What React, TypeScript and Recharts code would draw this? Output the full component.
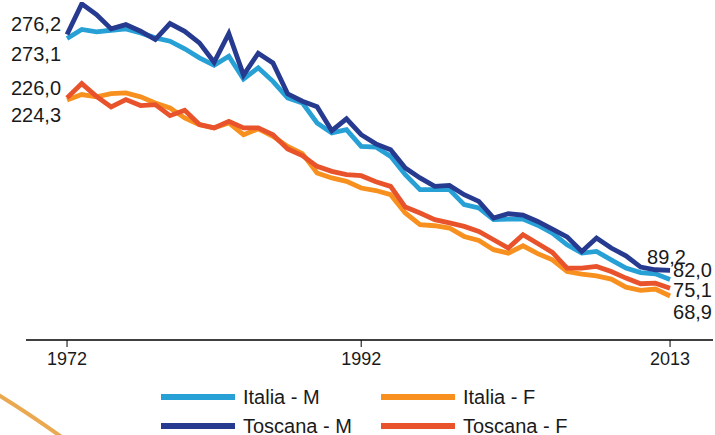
import React from 'react';
import { LineChart, Line, XAxis, YAxis } from 'recharts';

const years = [
  1972, 1973, 1974, 1975, 1976, 1977, 1978, 1979, 1980, 1981, 1982, 1983, 1984, 1985,
  1986, 1987, 1988, 1989, 1990, 1991, 1992, 1993, 1994, 1995, 1996, 1997, 1998, 1999,
  2000, 2001, 2002, 2003, 2004, 2005, 2006, 2007, 2008, 2009, 2010, 2011, 2012, 2013,
];

const italiaM = [
  273.1, 280.2, 278.3, 279.6, 280.7, 277.5, 273.6, 270.9, 264.9, 257.7, 251.9, 259.0, 241.0, 249.8,
  239.1, 225.9, 222.0, 206.1, 198.2, 200.8, 187.5, 187.0, 179.6, 165.1, 153.2, 153.2, 153.2, 141.3,
  138.7, 129.4, 129.9, 129.9, 125.0, 118.8, 109.5, 102.9, 104.2, 97.6, 91.0, 87.5, 86.5, 82.0,
];
const toscanaM = [
  276.2, 300.5, 292.1, 280.7, 284.1, 278.8, 272.2, 284.9, 278.8, 269.6, 254.2, 277.0, 244.0, 261.4,
  253.7, 229.2, 223.3, 219.0, 200.0, 209.4, 196.8, 189.5, 184.9, 170.4, 162.5, 155.8, 156.6, 149.2,
  143.9, 130.7, 134.1, 133.0, 128.0, 122.0, 115.8, 104.2, 114.8, 106.9, 100.8, 91.8, 89.7, 89.2,
];
const italiaF = [
  224.3, 228.6, 226.8, 229.4, 229.9, 226.8, 222.0, 218.0, 210.1, 204.8, 202.2, 206.1, 196.8, 201.4,
  195.5, 187.5, 181.8, 166.4, 162.5, 159.8, 154.5, 152.5, 149.2, 134.7, 125.4, 124.6, 122.8, 116.1,
  112.9, 105.6, 102.9, 108.7, 102.5, 97.6, 88.3, 86.3, 84.9, 82.3, 75.9, 73.3, 74.4, 68.9,
];
const toscanaF = [
  226.0, 237.3, 227.2, 218.8, 224.6, 219.9, 220.6, 211.9, 216.1, 204.8, 202.2, 207.4, 202.2, 202.2,
  196.8, 185.5, 180.2, 171.7, 167.7, 165.1, 164.3, 159.5, 155.8, 139.4, 134.7, 129.4, 126.8, 124.1,
  120.1, 113.5, 106.9, 117.5, 110.5, 103.4, 91.0, 91.0, 92.3, 88.3, 83.1, 78.6, 79.1, 75.1,
];

const tickYears = [1972, 1992, 2013];

// first/last = label offsets from the first and last point
const series = [
  { key: 'italiaM', name: 'Italia - M', color: '#27a0d6', first: [-6, 16], last: [3, -9] },
  { key: 'italiaF', name: 'Italia - F', color: '#f7901e', first: [-6, 15], last: [3, 16] },
  { key: 'toscanaM', name: 'Toscana - M', color: '#263a8f', first: [-6, -10.5], last: [-23, -13] },
  { key: 'toscanaF', name: 'Toscana - F', color: '#e8532b', first: [-6, -9.5], last: [3, 2] },
];

const data = years.map((year, i) => ({
  year,
  italiaM: italiaM[i],
  toscanaM: toscanaM[i],
  italiaF: italiaF[i],
  toscanaF: toscanaF[i],
}));

const FONT = '"Liberation Sans", Arial, sans-serif';

const fmt = (v: number) => v.toFixed(1).replace('.', ',');

const endLabel = (first: number[], last: number[]) => (props: any) => {
  const { x, y, value, index } = props;
  if (index === 0) {
    return (
      <text x={x + first[0]} y={y + first[1]} textAnchor="end" dominantBaseline="central"
        fontSize={20} fontFamily={FONT} fill="#1a1a1a">{fmt(value)}</text>
    );
  }
  if (index === years.length - 1) {
    return (
      <text x={x + last[0]} y={y + last[1]} textAnchor="start" dominantBaseline="central"
        fontSize={20} fontFamily={FONT} fill="#1a1a1a">{fmt(value)}</text>
    );
  }
  return null;
};

const legendRows = [
  [series[0], series[1]],
  [series[2], series[3]],
];

export default function App() {
  return (
    <div style={{ position: 'absolute', left: 0, top: 0, width: 715, height: 435, background: '#fff', fontFamily: FONT }}>
      <svg width={715} height={435} style={{ position: 'absolute', left: 0, top: 0 }}>
        <path d="M -3 394 Q 28 413 63 438" stroke="#eaa850" strokeWidth={4} fill="none" />
      </svg>
      <div style={{ position: 'absolute', left: 0, top: 0 }}>
        <LineChart width={715} height={435} data={data} margin={{ top: 2, right: 2, bottom: 65, left: 26 }}>
          <XAxis
            dataKey="year"
            type="number"
            domain={[1969.21, 2015.92]}
            allowDataOverflow
            ticks={tickYears}
            height={30}
            tickSize={7}
            tickMargin={5}
            axisLine={{ stroke: '#000', strokeWidth: 1.5 }}
            tickLine={{ stroke: '#000', strokeWidth: 1 }}
            tick={{ fill: '#1a1a1a', fontSize: 18, fontFamily: FONT }}
          />
          <YAxis hide domain={[34, 302]} allowDataOverflow />
          {series.map((s) => (
            <Line
              key={s.key}
              dataKey={s.key}
              name={s.name}
              stroke={s.color}
              strokeWidth={4.8}
              dot={false}
              activeDot={false}
              isAnimationActive={false}
              label={endLabel(s.first, s.last)}
            />
          ))}
        </LineChart>
      </div>
      {legendRows.map((row, r) =>
        row.map((s, c) => (
          <div key={s.key} style={{ position: 'absolute', left: c === 0 ? 161 : 381, top: (r === 0 ? 397 : 426) - 12, display: 'flex', alignItems: 'center', whiteSpace: 'nowrap' }}>
            <div style={{ width: 74, height: 6, background: s.color }} />
            <span style={{ marginLeft: 8, fontSize: 20, color: '#1a1a1a', lineHeight: '24px' }}>{s.name}</span>
          </div>
        ))
      )}
    </div>
  );
}
